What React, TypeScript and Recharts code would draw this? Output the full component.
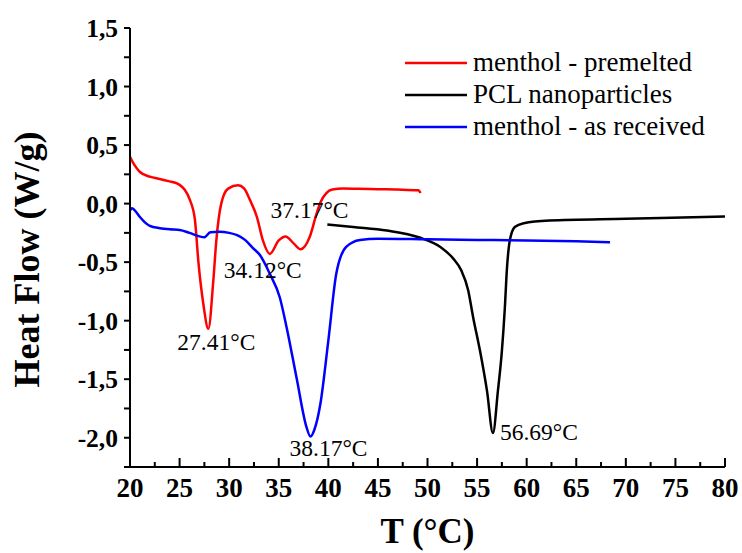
import React from "react";
import { LineChart, Line, XAxis, YAxis, ReferenceDot, Legend } from "recharts";

// menthol - premelted (red)
const premeltedT = [20, 20.3, 20.7, 21, 22, 23, 24, 24.5, 25, 25.5, 26.05, 26.55, 26.9, 27.4, 27.9, 28.4, 28.7, 29.2, 29.9, 30.9, 31.5, 32.1, 32.8, 33.4, 34.1, 35.0, 35.7, 36.5, 37.2, 38.1, 38.8, 39.2, 39.8, 40.4, 41.5, 43, 45, 47, 49.1, 49.3];
const premeltedHF = [0.4, 0.35, 0.3, 0.27, 0.23, 0.21, 0.19, 0.18, 0.16, 0.12, 0.03, -0.14, -0.5, -0.86, -1.07, -0.66, -0.32, 0.0, 0.128, 0.156, 0.13, 0.03, -0.115, -0.315, -0.43, -0.315, -0.28, -0.34, -0.39, -0.29, -0.09, 0.01, 0.09, 0.12, 0.128, 0.127, 0.123, 0.12, 0.113, 0.09];

// PCL nanoparticles (black)
const pclT = [39.9, 42.5, 45.9, 49.2, 51.3, 52.6, 53.4, 54.1, 54.6, 55.3, 56.0, 56.6, 57.1, 57.5, 57.8, 58.0, 58.3, 58.8, 59.7, 62.3, 70, 80];
const pclHF = [-0.178, -0.2, -0.23, -0.29, -0.37, -0.47, -0.57, -0.74, -0.97, -1.26, -1.6, -1.96, -1.6, -1.26, -0.89, -0.57, -0.315, -0.2, -0.167, -0.145, -0.13, -0.11];

// menthol - as received (blue)
const receivedT = [20, 20.2, 20.5, 21, 21.5, 22, 23, 24, 25, 26, 27, 27.5, 28.1, 29, 30, 30.8, 31.6, 32.4, 33.1, 34.1, 35.1, 35.8, 36.8, 37.8, 38.2, 38.6, 39.2, 40.0, 40.8, 41.8, 43.2, 45, 50, 55, 60, 65, 68.4];
const receivedHF = [-0.06, -0.04, -0.06, -0.115, -0.16, -0.19, -0.21, -0.22, -0.225, -0.25, -0.28, -0.288, -0.245, -0.24, -0.25, -0.27, -0.31, -0.38, -0.44, -0.6, -0.8, -1.06, -1.49, -1.91, -1.99, -1.93, -1.71, -1.17, -0.6, -0.37, -0.31, -0.3, -0.305, -0.31, -0.315, -0.322, -0.33];

const xTicks = [20, 22.5, 25, 27.5, 30, 32.5, 35, 37.5, 40, 42.5, 45, 47.5, 50, 52.5, 55, 57.5, 60, 62.5, 65, 67.5, 70, 72.5, 75, 77.5, 80];
const yTicks = [-2.25, -2, -1.75, -1.5, -1.25, -1, -0.75, -0.5, -0.25, 0, 0.25, 0.5, 0.75, 1, 1.25, 1.5];
const topTicks = [0, 1, 2, 3, 4, 5, 6, 7, 8, 9, 10];
const rightTicks = [0, 1, 2, 3, 4, 5, 6, 7, 8, 9, 10, 11, 12, 13, 14, 15, 16, 17, 18];

// peak annotations
const peakLabels = ["27.41°C", "34.12°C", "37.17°C", "38.17°C", "56.69°C"];
const peakT = [27.9, 34.1, 37.2, 38.2, 56.6];
const peakHF = [-1.07, -0.43, -0.39, -1.99, -1.96];

const FONT = "'Liberation Serif', 'Times New Roman', serif";
const labelOffsets = [[8, 21], [-7, 24], [9, -31], [18, 19], [46, 7]];

const zip = (t: number[], hf: number[]) => t.map((v, i) => ({ t: v, hf: hf[i] }));

const series = [
  { name: "menthol - premelted", color: "#ff0000", data: zip(premeltedT, premeltedHF) },
  { name: "PCL nanoparticles", color: "#000000", data: zip(pclT, pclHF) },
  { name: "menthol - as received", color: "#0000ff", data: zip(receivedT, receivedHF) },
];

function BottomTick({ x, y, payload }: any) {
  const major = payload.value % 5 === 0;
  return (
    <g>
      <line x1={x} x2={x} y1={y} y2={y - (major ? 9 : 5)} stroke="#000" strokeWidth={2} />
      {major && (
        <text x={x} y={y + 30} textAnchor="middle" fontFamily={FONT} fontWeight="bold" fontSize={27} fill="#000">
          {payload.value}
        </text>
      )}
    </g>
  );
}

function TopTick({ x, y, payload }: any) {
  const long = payload.value % 2 === 0;
  return <line x1={x} x2={x} y1={y} y2={y + (long ? 7 : 4)} stroke="#000" strokeWidth={2} />;
}

function RightTick({ x, y, payload }: any) {
  const long = payload.value % 2 === 0;
  return <line x1={x} x2={x - (long ? 7 : 4)} y1={y} y2={y} stroke="#000" strokeWidth={2} />;
}

function renderLegend() {
  return (
    <svg width={330} height={110}>
      {series.map((s, i) => (
        <g key={s.name}>
          <line x1={5} x2={67} y1={23 + i * 32} y2={23 + i * 32} stroke={s.color} strokeWidth={2.5} />
          <text x={73} y={31 + i * 32} fontFamily={FONT} fontSize={27} fill="#000">
            {s.name}
          </text>
        </g>
      ))}
    </svg>
  );
}

export default function App() {
  return (
    <div style={{ position: "absolute", left: 0, top: 0, background: "#fff" }}>
      <LineChart width={742} height={553} margin={{ top: 28, right: 17, left: 0, bottom: 0 }}>
        <XAxis
          dataKey="t"
          type="number"
          domain={[20, 80]}
          allowDataOverflow
          ticks={xTicks}
          interval={0}
          height={86}
          tickSize={0}
          tickMargin={0}
          tick={<BottomTick />}
          axisLine={{ stroke: "#000", strokeWidth: 2 }}
          label={{
            content: ({ viewBox }: any) => (
              <text
                x={viewBox.x + viewBox.width / 2}
                y={viewBox.y + 76}
                textAnchor="middle"
                fontFamily={FONT}
                fontWeight="bold"
                fontSize={35}
                fill="#000"
              >
                T (°C)
              </text>
            ),
          }}
        />
        <XAxis
          xAxisId="top"
          orientation="top"
          type="number"
          domain={[0, 10]}
          allowDataOverflow
          ticks={topTicks}
          interval={0}
          height={0}
          tickSize={0}
          tickMargin={0}
          tick={<TopTick />}
          axisLine={{ stroke: "#000", strokeWidth: 2 }}
        />
        <YAxis
          type="number"
          domain={[-2.25, 1.5]}
          allowDataOverflow
          ticks={yTicks}
          interval={0}
          width={130}
          tickSize={6}
          tickMargin={6}
          tickFormatter={(v: number) => (Math.abs(v * 2 - Math.round(v * 2)) < 1e-6 && v > -2.1 ? v.toFixed(1).replace(".", ",") : "")}
          tick={{ fontFamily: FONT, fontWeight: "bold", fontSize: 25.5, fill: "#000" }}
          tickLine={{ stroke: "#000", strokeWidth: 2 }}
          axisLine={{ stroke: "#000", strokeWidth: 2 }}
          label={{
            content: ({ viewBox }: any) => {
              const cx = viewBox.x + 27;
              const cy = viewBox.y + viewBox.height / 2 + 12;
              return (
                <text
                  x={cx}
                  y={cy}
                  transform={`rotate(-90, ${cx}, ${cy})`}
                  textAnchor="middle"
                  dominantBaseline="central"
                  fontFamily={FONT}
                  fontWeight="bold"
                  fontSize={36}
                  fill="#000"
                >
                  Heat Flow (W/g)
                </text>
              );
            },
          }}
        />
        <YAxis
          yAxisId="right"
          orientation="right"
          type="number"
          domain={[0, 18]}
          allowDataOverflow
          ticks={rightTicks}
          interval={0}
          width={0}
          tickSize={0}
          tickMargin={0}
          tick={<RightTick />}
          axisLine={{ stroke: "#000", strokeWidth: 2 }}
        />
        <Legend
          layout="horizontal"
          verticalAlign="middle"
          align="center"
          wrapperStyle={{ top: 40, left: 400, width: 330, height: 110 }}
          content={renderLegend}
        />
        {series.map((s) => (
          <Line
            key={s.name}
            data={s.data}
            dataKey="hf"
            name={s.name}
            type="monotone"
            stroke={s.color}
            strokeWidth={2.5}
            dot={false}
            activeDot={false}
            isAnimationActive={false}
          />
        ))}
        {peakLabels.map((label, i) => (
          <ReferenceDot
            key={label}
            x={peakT[i]}
            y={peakHF[i]}
            r={0}
            ifOverflow="visible"
            shape={(p: any) => (
              <text
                x={p.cx + labelOffsets[i][0]}
                y={p.cy + labelOffsets[i][1]}
                textAnchor="middle"
                fontFamily={FONT}
                fontSize={23.5}
                fill="#000"
              >
                {label}
              </text>
            )}
          />
        ))}
      </LineChart>
    </div>
  );
}
